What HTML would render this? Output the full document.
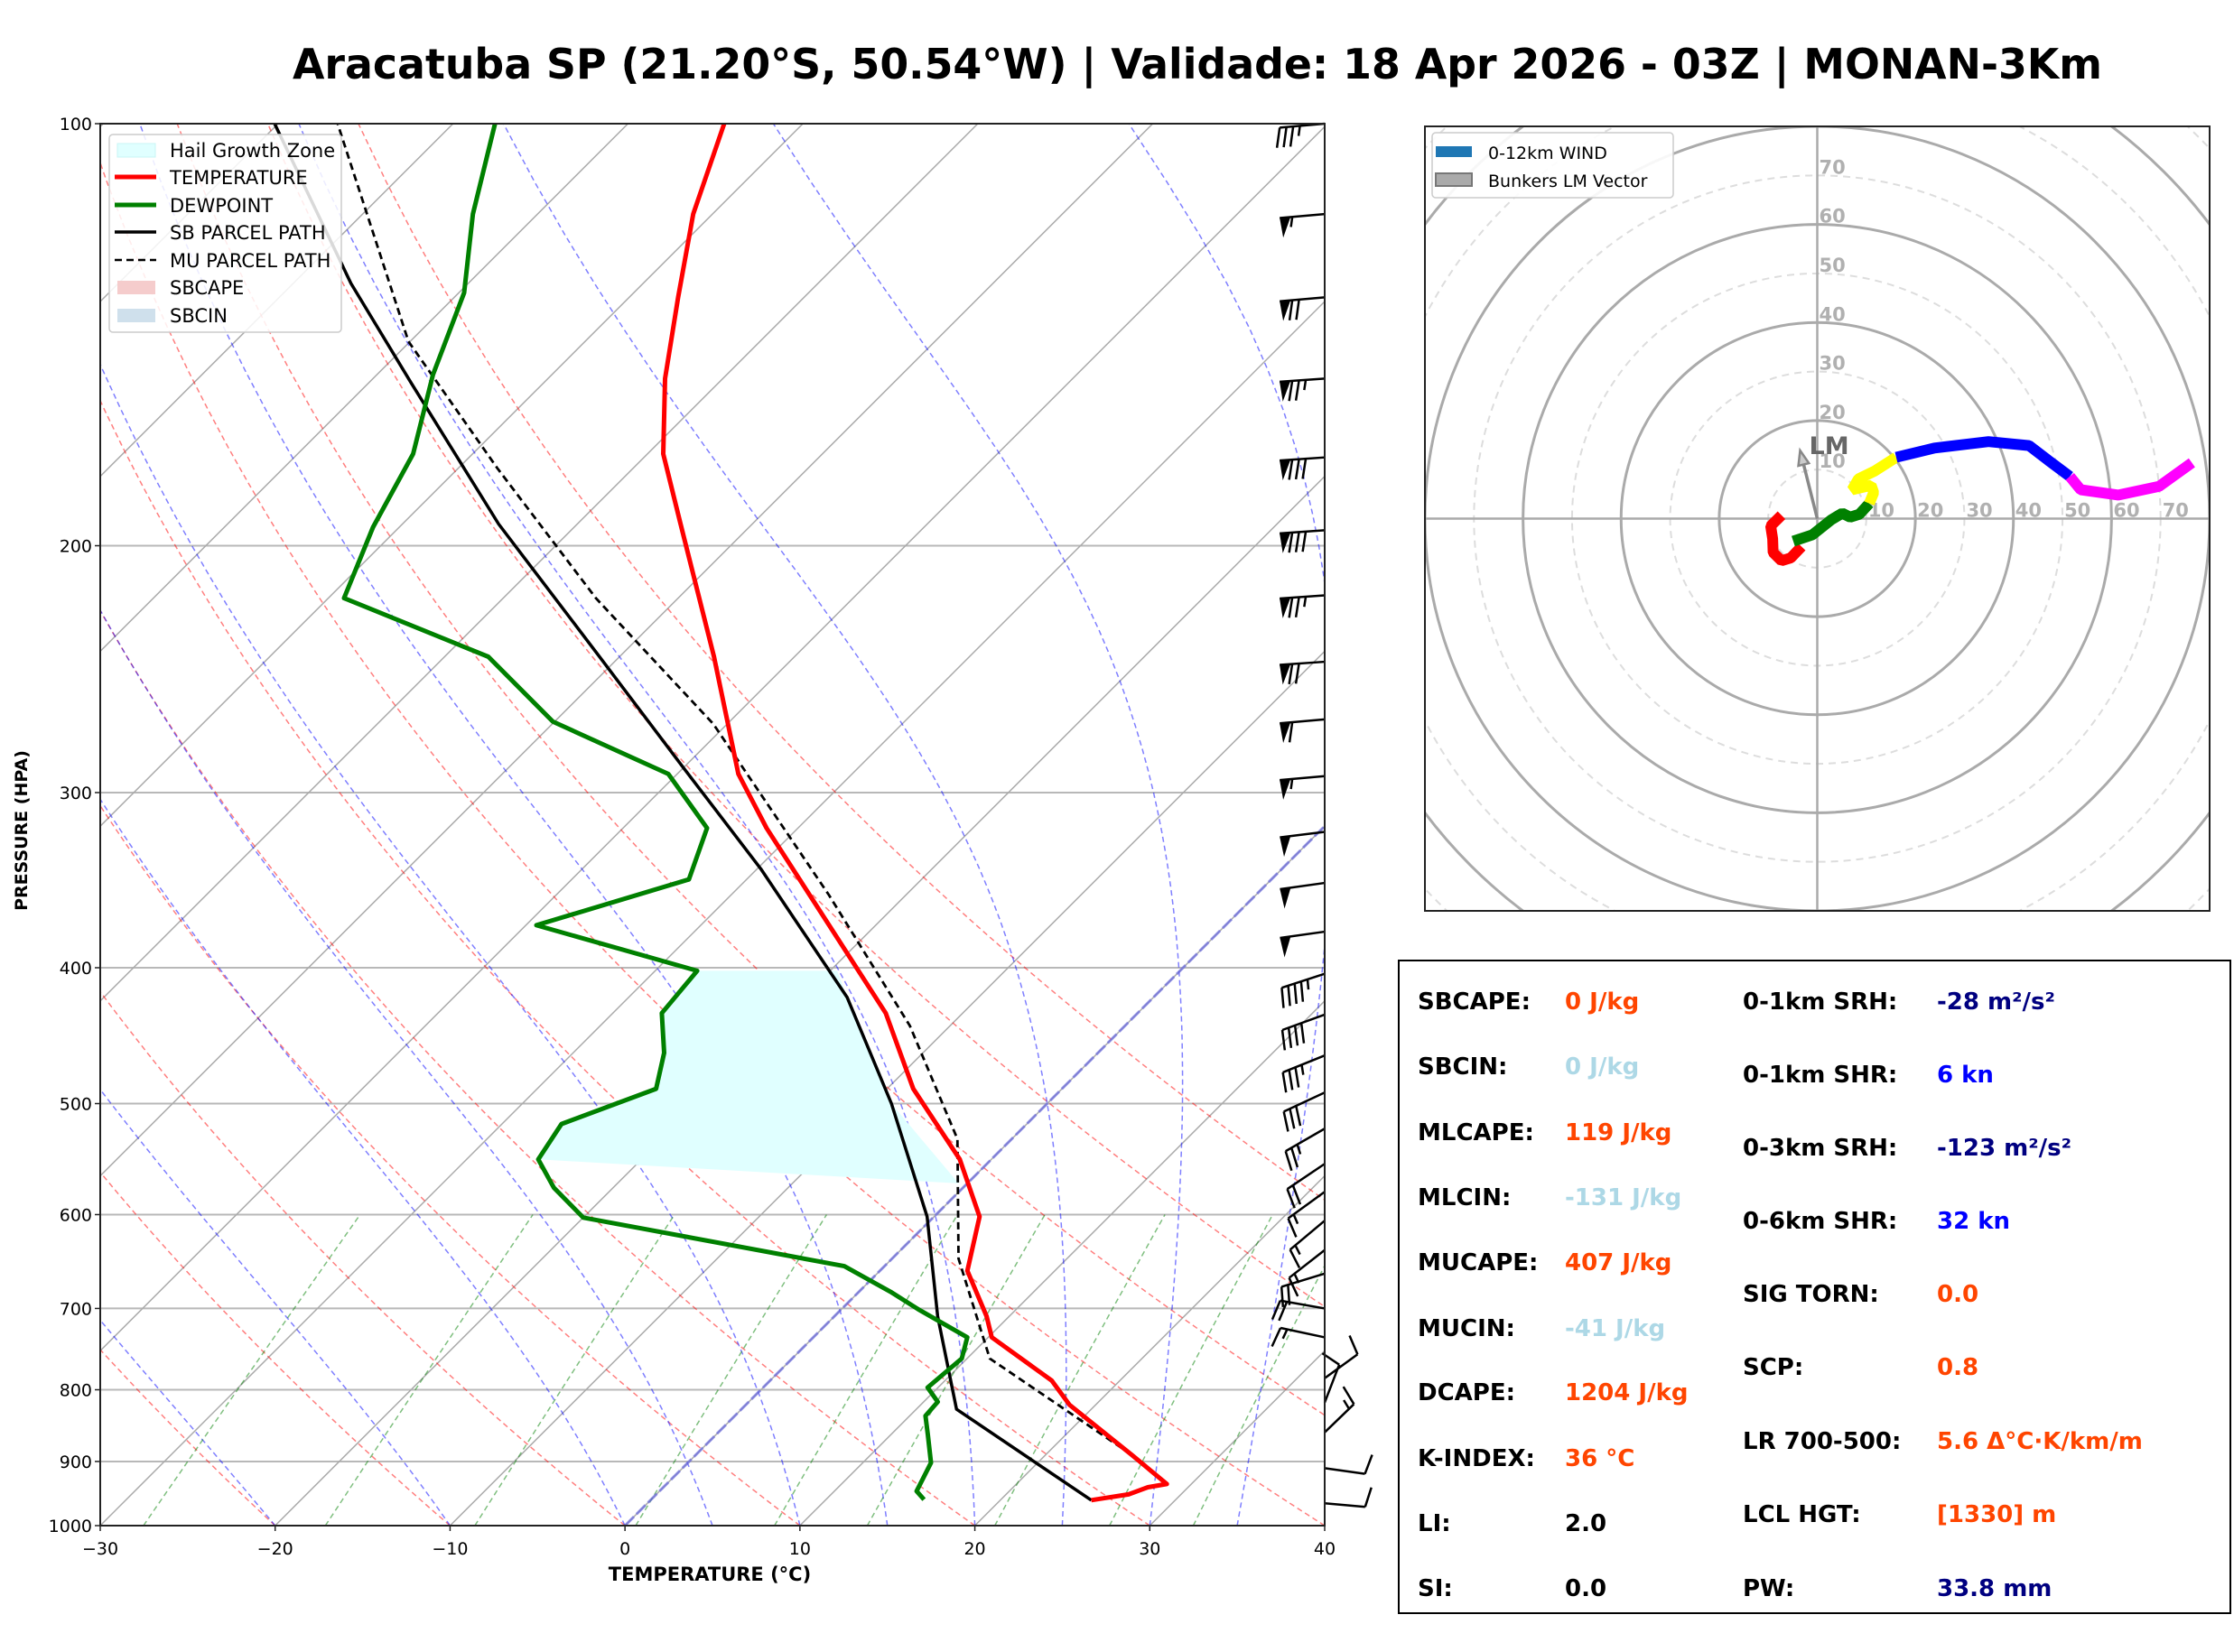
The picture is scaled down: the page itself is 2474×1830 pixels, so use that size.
<!DOCTYPE html>
<html><head><meta charset="utf-8">
<style>
html,body{margin:0;padding:0;background:#fff;}
svg{display:block;font-family:"DejaVu Sans","Liberation Sans",sans-serif;}
</style></head>
<body>
<svg id="fig" xmlns="http://www.w3.org/2000/svg" width="2474" height="1830" viewBox="0 0 2474 1830">
<rect x="0" y="0" width="2474" height="1830" fill="#fff"/>
<text x="324" y="87" font-size="46" font-weight="bold" textLength="2004" lengthAdjust="spacingAndGlyphs">Aracatuba SP (21.20°S, 50.54°W) | Validade: 18 Apr 2026 - 03Z | MONAN-3Km</text>
<defs>
<clipPath id="skewclip"><rect x="111" y="137" width="1356" height="1553"/></clipPath>
<clipPath id="hodoclip"><rect x="1578" y="140" width="869" height="869"/></clipPath>
</defs>
<g id="skew-bg" clip-path="url(#skewclip)"></g>
<g id="skew-data" clip-path="url(#skewclip)"></g>
<g id="barbs"></g>
<rect x="111" y="137" width="1356" height="1553" fill="none" stroke="#222" stroke-width="2"/>
<g id="skew-axes"></g>
<text x="786" y="1751" font-size="21" font-weight="bold" text-anchor="middle">TEMPERATURE (°C)</text>
<text x="0" y="0" font-size="19" font-weight="bold" text-anchor="middle" transform="translate(30,920) rotate(-90)">PRESSURE (HPA)</text>

<g>
<rect x="121" y="149" width="257" height="219" rx="4" fill="#fff" fill-opacity="0.85" stroke="#ccc" stroke-width="1.5"/>
<rect x="130" y="159" width="42" height="15" fill="#e0ffff" stroke="#c8f4f4"/>
<text x="188" y="174" font-size="21">Hail Growth Zone</text>
<line x1="127" y1="196" x2="173" y2="196" stroke="red" stroke-width="5"/>
<text x="188" y="204" font-size="21">TEMPERATURE</text>
<line x1="127" y1="227" x2="173" y2="227" stroke="green" stroke-width="5"/>
<text x="188" y="235" font-size="21">DEWPOINT</text>
<line x1="127" y1="257" x2="173" y2="257" stroke="#000" stroke-width="3.5"/>
<text x="188" y="265" font-size="21">SB PARCEL PATH</text>
<line x1="127" y1="288" x2="173" y2="288" stroke="#000" stroke-width="2.5" stroke-dasharray="8,5"/>
<text x="188" y="296" font-size="21">MU PARCEL PATH</text>
<rect x="130" y="311" width="42" height="15" fill="#f5cccc"/>
<text x="188" y="326" font-size="21">SBCAPE</text>
<rect x="130" y="342" width="42" height="15" fill="#cfe0ec"/>
<text x="188" y="357" font-size="21">SBCIN</text>
</g>

<g id="hodo" clip-path="url(#hodoclip)"></g>
<rect x="1578" y="140" width="869" height="869" fill="none" stroke="#222" stroke-width="2"/>
<g>
<rect x="1586" y="147" width="267" height="72" rx="4" fill="#fff" fill-opacity="0.9" stroke="#ccc" stroke-width="1.5"/>
<rect x="1590" y="162" width="40" height="12" fill="#1f77b4"/>
<text x="1648" y="176" font-size="19">0-12km WIND</text>
<rect x="1590" y="192" width="40" height="14" fill="#aaa" stroke="#777" stroke-width="2"/>
<text x="1648" y="207" font-size="19">Bunkers LM Vector</text>
</g>

<g font-size="26" font-weight="bold">
<rect x="1549" y="1064" width="921" height="723" fill="none" stroke="#000" stroke-width="2"/>
<text x="1570" y="1118">SBCAPE:</text><text x="1733" y="1118" fill="#ff4500">0 J/kg</text>
<text x="1570" y="1190">SBCIN:</text><text x="1733" y="1190" fill="#add8e6">0 J/kg</text>
<text x="1570" y="1263">MLCAPE:</text><text x="1733" y="1263" fill="#ff4500">119 J/kg</text>
<text x="1570" y="1335">MLCIN:</text><text x="1733" y="1335" fill="#add8e6">-131 J/kg</text>
<text x="1570" y="1407">MUCAPE:</text><text x="1733" y="1407" fill="#ff4500">407 J/kg</text>
<text x="1570" y="1480">MUCIN:</text><text x="1733" y="1480" fill="#add8e6">-41 J/kg</text>
<text x="1570" y="1551">DCAPE:</text><text x="1733" y="1551" fill="#ff4500">1204 J/kg</text>
<text x="1570" y="1624">K-INDEX:</text><text x="1733" y="1624" fill="#ff4500">36 °C</text>
<text x="1570" y="1696">LI:</text><text x="1733" y="1696">2.0</text>
<text x="1570" y="1768">SI:</text><text x="1733" y="1768">0.0</text>
<text x="1930" y="1118">0-1km SRH:</text><text x="2145" y="1118" fill="#000080">-28 m²/s²</text>
<text x="1930" y="1199">0-1km SHR:</text><text x="2145" y="1199" fill="#0000ff">6 kn</text>
<text x="1930" y="1280">0-3km SRH:</text><text x="2145" y="1280" fill="#000080">-123 m²/s²</text>
<text x="1930" y="1361">0-6km SHR:</text><text x="2145" y="1361" fill="#0000ff">32 kn</text>
<text x="1930" y="1442">SIG TORN:</text><text x="2145" y="1442" fill="#ff4500">0.0</text>
<text x="1930" y="1523">SCP:</text><text x="2145" y="1523" fill="#ff4500">0.8</text>
<text x="1930" y="1605">LR 700-500:</text><text x="2145" y="1605" fill="#ff4500">5.6 Δ°C·K/km/m</text>
<text x="1930" y="1686">LCL HGT:</text><text x="2145" y="1686" fill="#ff4500">[1330] m</text>
<text x="1930" y="1768">PW:</text><text x="2145" y="1768" fill="#000080">33.8 mm</text>
</g>
</svg>
<script>
// ---- data ----
const tempP = [959,950,939,934,890,820,788,734,709,658,602,548,488,431,318,291,240,193,172,152,133,116,100];
const tempT = [25.2,27.0,27.7,28.6,24.9,18.5,16.1,10.2,8.7,5.0,2.6,-1.8,-8.5,-14.4,-31.8,-36.5,-44.6,-54.1,-59.1,-63.3,-67.2,-71.1,-74.5];
const dewP = [958,945,902,861,835,816,797,760,734,701,681,653,603,574,548,517,488,460,431,402,373,346,318,291,267,240,218,194,172,151,132,116,100];
const dewT = [15.6,14.7,13.9,12.1,10.9,10.8,9.4,9.7,8.8,4.4,1.8,-2.3,-20.0,-23.4,-25.9,-26.6,-23.2,-24.8,-27.2,-27.6,-39.4,-33.3,-35.2,-40.5,-50.1,-57.5,-69.1,-71.5,-73.4,-76.8,-79.7,-83.7,-87.6];
const sbP = [959,826,709,602,500,420,340,288,239,193,153,130,100];
const sbT = [25.2,12.3,5.9,-0.4,-8.9,-17.5,-29.8,-40.0,-51.4,-64.5,-77.6,-86.7,-100.2];
const muP = [890,760,645,530,440,355,268,218,176,143,100];
const muT = [24.9,11.3,3.8,-3.1,-12.3,-24.4,-40.8,-54.7,-67.8,-80.1,-96.6];
const hailRightP = [570,500,420,402];
const hailRightT = [-0.5,-8.9,-17.5,-19.6];
const windP = [100,116,133,152,173,195,217,242,266,292,320,348,377,404,432,462,491,521,552,578,606,636,661,700,734,785,817,858,910,964];
const windDir = [265,265,265,266,266,266,266,266,265,265,263,262,262,252,250,248,245,240,236,234,230,232,253,280,282,54,21,46,98,95];
const windSpd = [35,55,70,75,80,80,75,70,60,55,50,50,50,45,40,35,30,25,20,15,15,15,20,20,15,10,10,15,10,10];
const pTicks = [100,200,300,400,500,600,700,800,900,1000];
const tTicks = [-30,-20,-10,0,10,20,30,40];
// hodograph layers (u,v in kn)
const hodoRedU = [-7.3,-9.5,-9.1,-9.0,-7.3,-5.4,-3.2];
const hodoRedV = [0.7,-1.5,-4.1,-6.9,-8.6,-8.0,-5.7];
const hodoGreenU = [-4.9,-1.0,2.9,5.1,6.7,8.6,10.6];
const hodoGreenV = [-4.6,-3.3,-0.2,1.1,0.3,0.9,3.1];
const hodoYellowU = [10.6,11.5,11.0,7.1,8.4,11.7,16.1];
const hodoYellowV = [3.1,5.3,6.8,5.9,8.1,9.7,12.5];
const hodoBlueU = [16.1,23.9,34.9,43.2,47.1,51.5];
const hodoBlueV = [12.5,14.4,15.7,14.9,11.9,8.6];
const hodoMagU = [51.5,53.7,61.4,69.7,76.4];
const hodoMagV = [8.6,5.9,4.8,6.6,11.4];
const lmU = [-3.5];
const lmV = [13.9];
const ringLabels = [10,20,30,40,50,60,70];

// ---- scales ----
const NS='http://www.w3.org/2000/svg';
const L=111,R=1467,TOP=137,BOT=1690,H=BOT-TOP,PXC=(R-L)/70;
function yP(p){return TOP+(Math.log10(p)-2)*H;}
function xT(t,p){return L+(t+30)*PXC+(BOT-yP(p));}
function mk(tag,attrs,parent){const e=document.createElementNS(NS,tag);for(const k in attrs)e.setAttribute(k,attrs[k]);parent.appendChild(e);return e;}
function pathFrom(ps,ts){return ps.map((p,i)=>(i?'L':'M')+xT(ts[i],p).toFixed(1)+','+yP(p).toFixed(1)).join('');}

const bg=document.getElementById('skew-bg');
pTicks.forEach(p=>{const l=mk('line',{x1:L,x2:R,y1:yP(p),y2:yP(p),stroke:'#b8b8b8','stroke-width':2},bg);

});
for(let t=-150;t<=40;t+=10){const l=mk('line',{x1:xT(t,1000),y1:yP(1000),x2:xT(t,100),y2:yP(100),stroke:'#aaa','stroke-width':1.5},bg);

}
const plev=[];for(let p=1000;p>=100;p-=10)plev.push(p);
for(let t0=-40;t0<=70;t0+=10){const th=t0+273.15;const ts=plev.map(p=>th*Math.pow(p/1000,0.2857)-273.15);
const e=mk('path',{d:pathFrom(plev,ts),fill:'none',stroke:'#ff0000','stroke-opacity':0.5,'stroke-width':1.5,'stroke-dasharray':'6,4'},bg);

}
function es(tc){return 6.112*Math.exp(17.67*tc/(tc+243.5));}
for(const t0 of [-40,-30,-20,-10,0,5,10,15,20,25,30,35,40]){
 let T=t0+273.15;const ps=[1000],ts=[t0];
 for(let p=1000;p>100;p-=2){const e=es(T-273.15);const rs=0.622*e/(p-e);
  const dTdp=(287.04*T+2.501e6*rs)/(1005.7+(2.501e6*2.501e6*rs*0.622/(287.04*T*T)))/p;
  T-=dTdp*2; if((p-2)%10===0){ps.push(p-2);ts.push(T-273.15);} }
 const e=mk('path',{d:pathFrom(ps,ts),fill:'none',stroke:'#0000ff','stroke-opacity':0.5,'stroke-width':1.5,'stroke-dasharray':'6,4'},bg);
 
 }
for(const w of [0.0004,0.001,0.002,0.004,0.007,0.01,0.016,0.024,0.032]){
 const ps=[],ts=[];for(let p=1000;p>=600;p-=20){const e=w*p/(0.622+w);const a=Math.log(e/6.112);ps.push(p);ts.push(243.5*a/(17.67-a));}
 const e=mk('path',{d:pathFrom(ps,ts),fill:'none',stroke:'#008000','stroke-opacity':0.5,'stroke-width':1.5,'stroke-dasharray':'6,4'},bg);
 
 }
{const e=mk('line',{x1:xT(0,1000),y1:yP(1000),x2:xT(0,100),y2:yP(100),stroke:'#6a6ae0','stroke-opacity':0.7,'stroke-width':3,'stroke-dasharray':'14,4'},bg);

}

const dg=document.getElementById('skew-data');
{const hp=[],ht=[];dewP.forEach((p,i)=>{if(p>=402&&p<=548){hp.push(p);ht.push(dewT[i]);}});
 const order=hp.map((p,i)=>[p,ht[i]]).sort((a,b)=>a[0]-b[0]);
 const allP=order.map(o=>o[0]).concat(hailRightP), allT=order.map(o=>o[1]).concat(hailRightT);
 const e=mk('path',{d:pathFrom(allP,allT)+'Z',fill:'#e0ffff',stroke:'none'},dg);
 
 }
{const e=mk('path',{d:pathFrom(muP,muT),fill:'none',stroke:'#000','stroke-width':2.8,'stroke-dasharray':'8,5'},dg);

}
{const e=mk('path',{d:pathFrom(sbP,sbT),fill:'none',stroke:'#000','stroke-width':3.5,'stroke-linejoin':'round'},dg);

}
{const e=mk('path',{d:pathFrom(dewP,dewT),fill:'none',stroke:'#008000','stroke-width':5,'stroke-linejoin':'round'},dg);

}
{const e=mk('path',{d:pathFrom(tempP,tempT),fill:'none',stroke:'#ff0000','stroke-width':5,'stroke-linejoin':'round'},dg);

}

const ax=document.getElementById('skew-axes');
pTicks.forEach(p=>{mk('line',{x1:L-6,x2:L,y1:yP(p),y2:yP(p),stroke:'#222','stroke-width':1.5},ax);
 const t=mk('text',{x:L-9,y:yP(p)+7,'font-size':19,'text-anchor':'end'},ax);t.textContent=p;
 
 });
tTicks.forEach(v=>{const x=L+(v+30)*PXC;mk('line',{x1:x,x2:x,y1:BOT,y2:BOT+6,stroke:'#222','stroke-width':1.5},ax);
 const t=mk('text',{x:x,y:BOT+32,'font-size':19,'text-anchor':'middle'},ax);t.textContent=(v<0?'\u2212'+(-v):v);
 
 });

const bgp=document.getElementById('barbs');
windP.forEach((p,i)=>{
 const ox=R,oy=yP(p);const d=windDir[i]*Math.PI/180;
 const ux=Math.sin(d),uy=-Math.cos(d);
 const Ls=p>760?45:50,nx=uy,ny=-ux,Lf=22,sp=7.5;
 const g=mk('g',{},bgp);
 
 
 mk('line',{x1:ox,y1:oy,x2:ox+ux*Ls,y2:oy+uy*Ls,stroke:'#000','stroke-width':2.5},g);
 let s=Math.round(windSpd[i]/5)*5;let pos=Ls;
 while(s>=50){const ax1=ox+ux*pos,ay1=oy+uy*pos,bx=ox+ux*(pos-12),by=oy+uy*(pos-12);
  mk('polygon',{points:`${ax1},${ay1} ${bx},${by} ${ax1+nx*Lf-ux*2},${ay1+ny*Lf-uy*2}`,fill:'#000'},g);pos-=14;s-=50;}
 if(pos===Ls&&s<10&&s>0)pos-=sp;
 while(s>=10){const px=ox+ux*pos,py=oy+uy*pos;mk('line',{x1:px,y1:py,x2:px+nx*Lf+ux*5,y2:py+ny*Lf+uy*5,stroke:'#000','stroke-width':2.5},g);pos-=sp;s-=10;}
 if(s>=5){const px=ox+ux*pos,py=oy+uy*pos;mk('line',{x1:px,y1:py,x2:px+nx*Lf*0.5+ux*2.5,y2:py+ny*Lf*0.5+uy*2.5,stroke:'#000','stroke-width':2.5},g);}
});

const hg=document.getElementById('hodo');
const CX=(1578+2447)/2,CY=(140+1009)/2,K=434.5/80;
for(let r=10;r<=110;r+=10){const solid=r%20===0;
 const c=mk('circle',{cx:CX,cy:CY,r:r*K,fill:'none',stroke:solid?'#aaa':'#ddd','stroke-width':solid?3:2,'stroke-dasharray':solid?'none':'8,6'},hg);
 
 }
mk('line',{x1:1578,x2:2447,y1:CY,y2:CY,stroke:'#aaa','stroke-width':2.5},hg);
mk('line',{x1:CX,x2:CX,y1:140,y2:1009,stroke:'#aaa','stroke-width':2.5},hg);
ringLabels.forEach(r=>{
 const a=mk('text',{x:CX+r*K+2,y:CY-2,'font-size':21,'font-weight':'bold',fill:'#b0b0b0'},hg);a.textContent=r;
 
 
 const b=mk('text',{x:CX+2,y:CY-r*K-2,'font-size':21,'font-weight':'bold',fill:'#b0b0b0'},hg);b.textContent=r;
 
 });
function hodoLine(us,vs,col,name){const d=us.map((u,i)=>(i?'L':'M')+(CX+u*K).toFixed(1)+','+(CY-vs[i]*K).toFixed(1)).join('');
 const e=mk('path',{d:d,fill:'none',stroke:col,'stroke-width':12,'stroke-linejoin':'bevel'},hg);
 
 }
hodoLine(hodoRedU,hodoRedV,'#ff0000','hodo-0-1km');
hodoLine(hodoGreenU,hodoGreenV,'#008000','hodo-1-3km');
hodoLine(hodoYellowU,hodoYellowV,'#ffff00','hodo-3-6km');
hodoLine(hodoBlueU,hodoBlueV,'#0000ff','hodo-6-9km');
hodoLine(hodoMagU,hodoMagV,'#ff00ff','hodo-9-12km');
{const ex=CX+lmU[0]*K,ey=CY-lmV[0]*K;const dx=ex-CX,dy=ey-CY,len=Math.hypot(dx,dy),ux=dx/len,uy=dy/len;
 const a=mk('line',{x1:CX,y1:CY,x2:ex-ux*4,y2:ey-uy*4,stroke:'#888','stroke-width':3.5},hg);
 
 
 const bx=ex-ux*16,by=ey-uy*16,nx=-uy,ny=ux;
 mk('polygon',{points:`${ex},${ey} ${bx+nx*6},${by+ny*6} ${bx-nx*6},${by-ny*6}`,fill:'#ccc',stroke:'#888','stroke-width':2.5},hg);
 const t=mk('text',{x:ex+10,y:ey+4,'font-size':27,'font-weight':'bold',fill:'#666'},hg);t.textContent='LM';
 
 }
</script>
</body></html>
